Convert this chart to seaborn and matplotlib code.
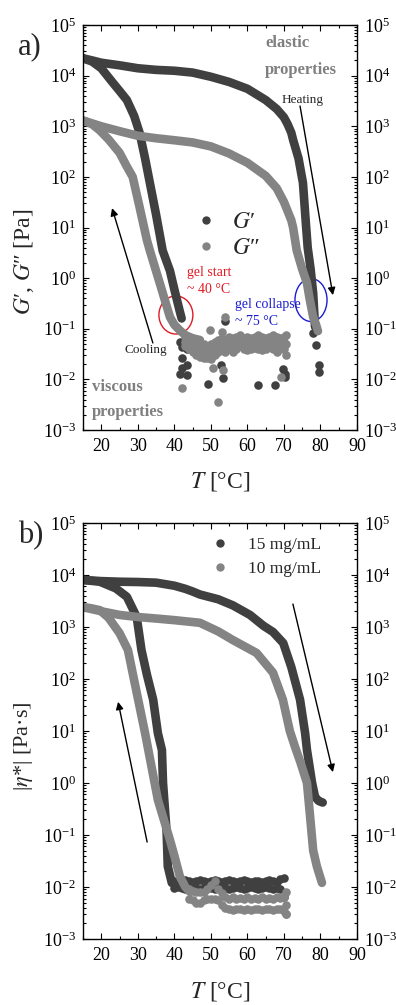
import numpy as np
import pandas as pd
import seaborn as sns
import matplotlib
matplotlib.use("Agg")
import matplotlib.pyplot as plt
from matplotlib.patches import Ellipse
from matplotlib.lines import Line2D
from matplotlib.ticker import LogLocator, MultipleLocator, FixedLocator, NullFormatter

# ---------------- data: panel a) ----------------
gp_heat_T = [15, 17.5, 20, 25, 30, 35, 40, 45, 50, 55, 60, 65, 68, 70, 71, 72, 72.5, 74, 75.2, 76, 76.5, 77.3, 78, 78.5]
gp_heat_v = [2.2e4, 2.0e4, 1.8e4, 1.6e4, 1.4e4, 1.3e4, 1.25e4, 1.15e4, 9.5e3, 7.5e3, 5.5e3, 3.3e3, 2.2e3, 1.5e3,
             1.1e3, 750, 540, 230, 76, 12, 4, 1.5, 0.5, 0.11]
gp_cool_T = [15, 17.5, 20, 23, 25, 27, 29, 30.5, 32, 33.3, 35, 36.8, 38.8, 40, 41.5, 42]
gp_cool_v = [2.2e4, 1.9e4, 1.4e4, 7.5e3, 5e3, 3.3e3, 1.6e3, 740, 230, 76, 18, 3.5, 1.4, 0.6, 0.22, 0.16]
gpp_heat_T = [15, 20, 25, 30, 35, 40, 45, 50, 55, 60, 65, 68, 70, 72, 72.5, 73.5, 75, 76.3, 77, 78, 78.8, 79.3]
gpp_heat_v = [1.3e3, 1.0e3, 800, 650, 580, 530, 480, 400, 290, 190, 105, 60, 32, 14, 10, 3.5, 1.5, 0.8, 0.4,
              0.17, 0.12, 0.09]
gpp_cool_T = [15, 17.5, 19.6, 22, 25, 27, 28.6, 30.5, 32.5, 33.3, 36, 38.8, 40, 41.5, 43, 45, 47]
gpp_cool_v = [1.3e3, 1.1e3, 830, 550, 300, 160, 100, 25, 5.6, 3.5, 0.8, 0.17, 0.12, 0.093, 0.075, 0.065, 0.06]

gpp_flat_T = [43, 44, 45, 46, 47, 48, 49, 50, 51, 52, 53, 54, 55, 56, 57, 58, 59, 60, 61, 62, 63, 64, 65, 66,
              67, 68, 69, 70, 70.5]
gpp_flat_hi = [0.07, 0.065, 0.06, 0.055, 0.05, 0.05, 0.045, 0.05, 0.055, 0.06, 0.065, 0.06, 0.07, 0.065, 0.07,
               0.075, 0.065, 0.07, 0.065, 0.07, 0.075, 0.07, 0.065, 0.07, 0.075, 0.07, 0.065, 0.07, 0.075]
gpp_flat_mid = [0.055, 0.05, 0.045, 0.04, 0.038, 0.036, 0.035, 0.036, 0.04, 0.045, 0.05, 0.048, 0.052, 0.05,
                0.052, 0.055, 0.05, 0.052, 0.05, 0.054, 0.055, 0.052, 0.05, 0.054, 0.056, 0.052, 0.05, 0.054, 0.05]
gpp_flat_lo = [0.045, 0.04, 0.035, 0.03, 0.028, 0.027, 0.026, 0.025, 0.03, 0.035, 0.04, 0.035, 0.04, 0.035,
               0.04, 0.045, 0.04, 0.038, 0.04, 0.042, 0.04, 0.038, 0.04, 0.045, 0.04, 0.035, 0.04, 0.04, 0.03]

gp_noise_T = [41.5, 42.0, 43.4, 42.0, 43.4, 42.0, 41.5, 43.4, 49.2, 52.8, 53.3, 53.9, 63.0, 67.5, 69.8, 70.3,
              70.3, 78.0, 78.7, 79.6, 79.6]
gp_noise_v = [0.055, 0.044, 0.04, 0.026, 0.019, 0.017, 0.013, 0.012, 0.008, 0.019, 0.0105, 0.14, 0.0078,
              0.0078, 0.016, 0.013, 0.011, 0.081, 0.048, 0.019, 0.014]
gpp_noise_T = [42.0, 52.0, 50.5, 53.2, 49.8, 53.0, 53.8, 69.3]
gpp_noise_v = [0.0068, 0.0035, 0.017, 0.015, 0.093, 0.085, 0.17, 0.011]

# ---------------- data: panel b) ----------------
c15_heat_T = [15, 20, 25, 30, 35, 40, 43, 45, 47, 52, 56, 60.7, 64.4, 67, 69.8, 72, 74.4, 75.8, 76.3, 77.7,
              78.5, 79.5, 80.6]
c15_heat_v = [8e3, 7.6e3, 7.4e3, 7.3e3, 7.1e3, 6.2e3, 5.4e3, 4.8e3, 4.2e3, 3.4e3, 2.6e3, 1.7e3, 1.05e3, 800,
              490, 170, 40, 9, 4.3, 1.0, 0.54, 0.45, 0.42]
c15_cool_T = [15, 19.6, 24, 27, 29.7, 31, 32.5, 34.2, 35.5, 36.6, 36.9, 37.9, 38.2, 39.3, 41]
c15_cool_v = [8e3, 7.4e3, 5.5e3, 3.8e3, 1.55e3, 360, 120, 40, 9, 4.3, 1.0, 0.11, 0.025, 0.012, 0.011]
c10_heat_T = [15, 20, 25, 30, 35, 40, 47, 52, 56, 62.5, 67, 69.7, 71.6, 73, 74.5, 76.3, 77.1, 78, 79, 80.4]
c10_heat_v = [2.4e3, 2.0e3, 1.7e3, 1.55e3, 1.45e3, 1.35e3, 1.2e3, 820, 560, 316, 132, 40, 10, 5, 2.5, 1.0, 0.25,
              0.05, 0.025, 0.012]
c10_cool_T = [15, 17, 19.6, 22, 25, 27.3, 28.8, 32, 35.5, 38.8, 40, 41.5, 43, 44.3]
c10_cool_v = [2.4e3, 2.3e3, 2.1e3, 1.5e3, 760, 360, 110, 9, 0.47, 0.08, 0.04, 0.016, 0.01, 0.008]

c15_flat_T = [40, 41, 42, 43, 44, 45, 46, 47, 48, 49, 50, 51, 52, 53, 54, 55, 56, 57, 58, 59, 60, 61, 62, 63,
              64, 65, 66, 67, 68, 69, 70]
c15_flat_hi = [0.013, 0.0125, 0.013, 0.0135, 0.013, 0.0125, 0.013, 0.0135, 0.013, 0.0125, 0.013, 0.0135, 0.013,
               0.0125, 0.013, 0.0135, 0.013, 0.0125, 0.013, 0.0135, 0.013, 0.0125, 0.013, 0.013, 0.0125, 0.013,
               0.0135, 0.013, 0.0125, 0.014, 0.015]
c15_flat_lo = [0.0095, 0.01, 0.0095, 0.0092, 0.0095, 0.01, 0.0095, 0.0092, 0.0095, 0.01, 0.0095, 0.0092, 0.0095,
               0.01, 0.0095, 0.0092, 0.0095, 0.01, 0.0095, 0.0092, 0.0095, 0.01, 0.0095, 0.0092, 0.0095, 0.01,
               0.0095, 0.0092, 0.0095, 0.009, 0.0064]
c10_flat_T = [44, 45, 46, 47, 48, 49, 50, 51, 52, 53, 54, 55, 56, 57, 58, 59, 60, 61, 62, 63, 64, 65, 66, 67,
              68, 69, 70, 70.5, 70.5]
c10_flat_hi = [0.009, 0.0085, 0.008, 0.008, 0.008, 0.009, 0.011, 0.013, 0.009, 0.0075, 0.0065, 0.006, 0.0063,
               0.0058, 0.0062, 0.006, 0.0064, 0.0059, 0.0062, 0.006, 0.0063, 0.0058, 0.0062, 0.006, 0.0063,
               0.0061, 0.0065, 0.008, 0.0045]
c10_flat_lo = [0.006, 0.0055, 0.005, 0.005, 0.0055, 0.006, 0.006, 0.006, 0.0055, 0.0045, 0.004, 0.0037, 0.0036,
               0.0038, 0.0037, 0.0036, 0.0038, 0.0036, 0.0037, 0.0038, 0.0036, 0.0037, 0.0038, 0.0036, 0.0037,
               0.0038, 0.0035, 0.003, 0.003]

x_ticks = [20, 30, 40, 50, 60, 70, 80, 90]
legend_a = ["$G$′", "$G$″"]
legend_b = ["15 mg/mL", "10 mg/mL"]

DARK = "#404040"
LIGHT = "#848484"
LW = 6.2
MS = 38

sns.set_theme(style="ticks")
plt.rcParams["font.family"] = ["Liberation Serif", "DejaVu Serif"]
plt.rcParams["mathtext.fontset"] = "stix"

fig = plt.figure(figsize=(3.96, 10.05), dpi=100)
axA = fig.add_axes([0.2096, 0.5721, 0.692, 0.403])
axB = fig.add_axes([0.2096, 0.0657, 0.692, 0.414])


def curve(ax, T, v, color):
    sns.lineplot(x=T, y=v, sort=False, estimator=None, color=color, lw=LW, ax=ax,
                 solid_capstyle="round", solid_joinstyle="round", legend=False)


def dots(ax, T, v, color):
    sns.scatterplot(x=T, y=v, color=color, s=MS, linewidth=0, ax=ax, legend=False)


def style(ax):
    ax.set_yscale("log")
    ax.set_xlim(15, 90)
    ax.set_ylim(1e-3, 1e5)
    ax.xaxis.set_major_locator(FixedLocator(x_ticks))
    ax.xaxis.set_minor_locator(MultipleLocator(5))
    ax.yaxis.set_major_locator(LogLocator(base=10, numticks=20))
    ax.yaxis.set_minor_locator(LogLocator(base=10, subs=np.arange(2, 10), numticks=20))
    ax.yaxis.set_minor_formatter(NullFormatter())
    ax.tick_params(which="both", direction="in", top=True, right=True, labelright=True,
                   labelsize=13, width=0.8, colors="black")
    ax.tick_params(which="major", length=4.5)
    ax.tick_params(which="minor", length=2.5)
    ax.tick_params(axis="x", pad=6)
    ax.tick_params(axis="y", pad=5)
    for s in ax.spines.values():
        s.set_linewidth(1.0)
        s.set_color("black")


for ax in (axA, axB):
    ax.set_yscale("log")

# panel a
curve(axA, gp_heat_T, gp_heat_v, DARK)
curve(axA, gp_cool_T, gp_cool_v, DARK)
dots(axA, gp_noise_T, gp_noise_v, DARK)
curve(axA, gpp_heat_T, gpp_heat_v, LIGHT)
curve(axA, gpp_cool_T, gpp_cool_v, LIGHT)
dots(axA, gpp_flat_T, gpp_flat_hi, LIGHT)
dots(axA, gpp_flat_T, gpp_flat_mid, LIGHT)
dots(axA, gpp_flat_T, gpp_flat_lo, LIGHT)
dots(axA, gpp_noise_T, gpp_noise_v, LIGHT)
style(axA)

# panel b
curve(axB, c15_heat_T, c15_heat_v, DARK)
curve(axB, c15_cool_T, c15_cool_v, DARK)
dots(axB, c15_flat_T, c15_flat_hi, DARK)
dots(axB, c15_flat_T, c15_flat_lo, DARK)
curve(axB, c10_heat_T, c10_heat_v, LIGHT)
curve(axB, c10_cool_T, c10_cool_v, LIGHT)
dots(axB, c10_flat_T, c10_flat_hi, LIGHT)
dots(axB, c10_flat_T, c10_flat_lo, LIGHT)
style(axB)

# labels
axA.set_xlabel("$T$ [°C]", fontsize=17)
axB.set_xlabel("$T$ [°C]", fontsize=17)
axA.set_ylabel("$G$′, $G$″ [Pa]", fontsize=17)
axB.set_ylabel(r"|$\eta$*| [Pa·s]", fontsize=16)
axA.xaxis.set_label_coords(0.5, -0.099)
axB.xaxis.set_label_coords(0.5, -0.099)
axA.yaxis.set_label_coords(-0.172, 0.415)
axB.yaxis.set_label_coords(-0.175, 0.464)

fig.text(0.076, 0.954, "a)", fontsize=22, ha="center", va="center")
fig.text(0.078, 0.467, "b)", fontsize=22, ha="center", va="center")

# legends
hA = [Line2D([], [], ls="", marker="o", ms=6, color=DARK, mec="none"),
      Line2D([], [], ls="", marker="o", ms=6, color=LIGHT, mec="none")]
axA.legend(hA, legend_a, loc="upper left", bbox_to_anchor=(0.407, 0.54), frameon=False, fontsize=17,
           handlelength=1.0, handletextpad=0.6, labelspacing=0.2, borderpad=0, borderaxespad=0)
hB = [Line2D([], [], ls="", marker="o", ms=6, color=DARK, mec="none"),
      Line2D([], [], ls="", marker="o", ms=6, color=LIGHT, mec="none")]
axB.legend(hB, legend_b, loc="upper left", bbox_to_anchor=(0.47, 0.967), frameon=False, fontsize=12.5,
           handlelength=1.0, handletextpad=1.1, labelspacing=0.45, borderpad=0, borderaxespad=0)

# annotations panel a
gray_bold = dict(color="#808080", fontsize=12, fontweight="bold", transform=axA.transAxes, ha="left",
                 va="center")
axA.text(0.664, 0.956, "elastic", **gray_bold)
axA.text(0.664, 0.889, "properties", **gray_bold)
axA.text(0.033, 0.106, "viscous", **gray_bold)
axA.text(0.033, 0.044, "properties", **gray_bold)
axA.text(0.803, 0.815, "Heating", fontsize=9.5, transform=axA.transAxes, ha="center", va="center")
axA.text(0.23, 0.198, "Cooling", fontsize=9.5, transform=axA.transAxes, ha="center", va="center")
axA.text(0.38, 0.39, "gel start", fontsize=10, color="#e01b24", transform=axA.transAxes, ha="left",
         va="center")
axA.text(0.38, 0.346, "~ 40 °C", fontsize=10, color="#e01b24", transform=axA.transAxes, ha="left",
         va="center")
axA.text(0.555, 0.309, "gel collapse", fontsize=10, color="#1c1cd0", transform=axA.transAxes, ha="left",
         va="center")
axA.text(0.555, 0.267, "~ 75 °C", fontsize=10, color="#1c1cd0", transform=axA.transAxes, ha="left",
         va="center")
axA.add_patch(Ellipse((0.339, 0.284), 0.124, 0.094, transform=axA.transAxes, fill=False, ec="#e01b24", lw=1))
axA.add_patch(Ellipse((0.832, 0.321), 0.117, 0.106, transform=axA.transAxes, fill=False, ec="#1c1cd0", lw=1))

arrow = dict(arrowstyle="-|>", color="black", lw=1.0, mutation_scale=11, shrinkA=0, shrinkB=0)
axA.annotate("", xy=(0.912, 0.333), xytext=(0.792, 0.800), xycoords="axes fraction", arrowprops=arrow)
axA.annotate("", xy=(0.106, 0.548), xytext=(0.255, 0.215), xycoords="axes fraction", arrowprops=arrow)
axB.annotate("", xy=(0.128, 0.570), xytext=(0.234, 0.233), xycoords="axes fraction", arrowprops=arrow)
axB.annotate("", xy=(0.912, 0.401), xytext=(0.766, 0.805), xycoords="axes fraction", arrowprops=arrow)

fig.savefig("out.png", dpi=100)
